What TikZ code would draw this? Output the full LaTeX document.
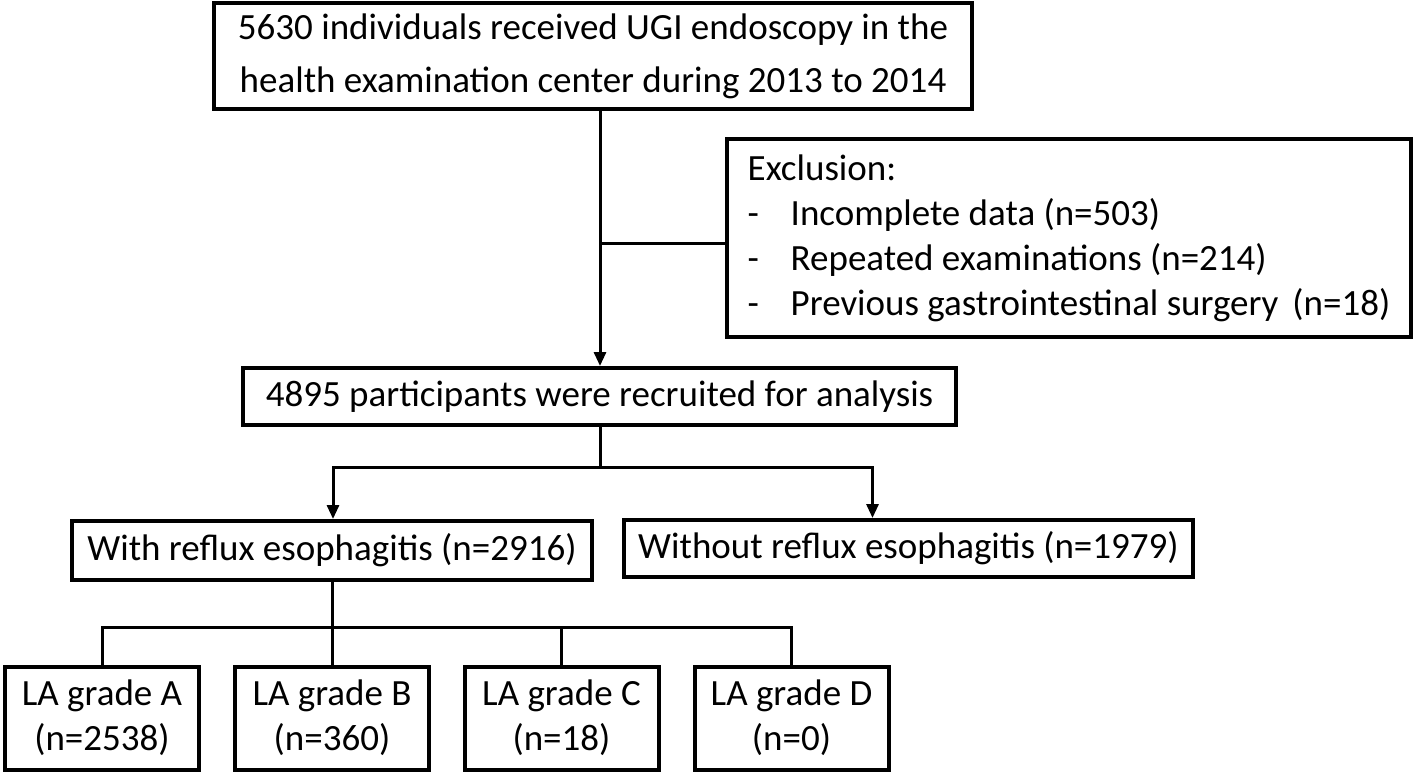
\documentclass[tikz,border=0pt]{standalone}
\usepackage{fontspec}
\setmainfont{Carlito}
\usetikzlibrary{arrows.meta, positioning}

\begin{document}
\begin{tikzpicture}[
            x=1pt, y=-1pt,
            line join=miter,
            flowbox/.style={shape=rectangle, draw=black, line width=4pt, inner sep=0pt, font=\fontsize{37}{45}\selectfont},
            gradebox/.style={flowbox, minimum width=194pt, minimum height=103pt, align=center},
            link/.style={draw=black, line width=3pt},
            arr/.style={link, -{Triangle[length=14pt, width=12pt]}}
            ]

            \useasboundingbox (0,0) rectangle (1418,776);

            % Boxes
            \node[flowbox, minimum width=758pt, minimum height=105pt, align=center, font=\fontsize{37}{53}\selectfont] (total) at (593,56)
                {5630 individuals received UGI endoscopy in the\\health examination center during 2013 to 2014};
            \node[flowbox, minimum width=684pt, minimum height=198pt, align=left] (exclusion) at (1069,238)
                {Exclusion:\\
                 \makebox[43pt][l]{-}Incomplete data (n=503)\\
                 \makebox[43pt][l]{-}Repeated examinations (n=214)\\
                 \makebox[43pt][l]{-}Previous gastrointestinal surgery\hspace{14pt}(n=18)};
            \node[flowbox, minimum width=713pt, minimum height=57pt] (recruited) at (599.5,396.5)
                {4895 participants were recruited for analysis};
            \node[flowbox, minimum width=520pt, minimum height=59pt] (withRE) at (332,550.5)
                {With reflux esophagitis (n=2916)};
            \node[flowbox, minimum width=569pt, minimum height=57pt] (withoutRE) at (908.5,548.5)
                {Without reflux esophagitis (n=1979)};

            % LA grades
            \foreach \name/\xpos/\grade/\num in {
                gradeA/102/A/2538,
                gradeB/332/B/360,
                gradeC/561.5/C/18,
                gradeD/791.5/D/0} {
                \node[gradebox] (\name) at (\xpos,718) {LA grade \grade\\(n=\num)};
            }

            % Connectors
            \coordinate (split) at (600,243);
            \coordinate (fork) at (600,467);
            \coordinate (branch) at (332,627);
            \draw[arr] (total.south -| split) -- (recruited.north -| split);
            \draw[link] (split) -- (exclusion.west |- split);
            \draw[link] (recruited.south -| fork) -- (fork);
            \draw[arr] (fork) -| ([xshift=1pt]withRE.north);
            \draw[arr] (fork) -| ([xshift=-36pt]withoutRE.north);
            \draw[link] (withRE.south) -- (branch);
            \draw[link] (gradeA.north) |- (gradeD.north |- branch) -- (gradeD.north);
            \draw[link] (gradeB.north) -- (gradeB.north |- branch);
            \draw[link] (gradeC.north) -- (gradeC.north |- branch);
\end{tikzpicture}
\end{document}
